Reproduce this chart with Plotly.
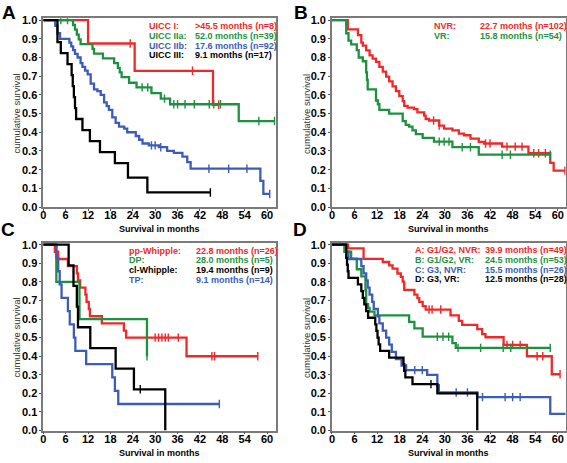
import numpy as np
import plotly.graph_objects as go

W, H = 567, 463
RED, GREEN, BLUE, BLACK = "#f02828", "#1e9140", "#3c5cb8", "#000000"
FONT = "Liberation Sans, Arial, sans-serif"

x_ticks = [0, 6, 12, 18, 24, 30, 36, 42, 48, 54, 60]
y_ticks = [0.0, 0.1, 0.2, 0.3, 0.4, 0.5, 0.6, 0.7, 0.8, 0.9, 1.0]

# ---------------- Panel A ----------------
A_I_t = [0, 12.0, 24.5, 45.5]
A_I_s = [1.0, 0.875, 0.729, 0.547]
A_I_end = 47.0
A_I_cens = [23.3, 40.0, 47.0]

A_IIa_t = [0, 8.0, 8.5, 9.0, 9.5, 10.0, 13.2, 13.6, 16.0, 19.0, 20.0, 20.5, 21.0, 23.0, 25.0, 29.0, 31.5, 34.0, 52.4]
A_IIa_s = [1.0, 0.974, 0.949, 0.923, 0.897, 0.872, 0.846, 0.821, 0.795, 0.77, 0.745, 0.72, 0.695, 0.665, 0.64, 0.61, 0.58, 0.55, 0.46]
A_IIa_end = 62.2
A_IIa_cens = [4.7, 6.5, 26.5, 28.0, 32.5, 35.0, 36.0, 38.0, 40.5, 44.5, 45.7, 47.5, 57.8, 62.0]

A_IIb_t = [0, 3.2, 3.8, 4.5, 7.0, 7.5, 8.0, 8.5, 9.2, 10.0, 10.5, 11.2, 11.9, 12.7, 13.6, 14.5, 15.4, 16.3, 17.0, 17.6, 18.5, 19.4, 20.3, 21.7, 22.5, 24.8, 25.7, 26.6, 28.3, 31.0, 33.2, 35.0, 37.3, 38.6, 39.5, 58.2, 59.0]
A_IIb_s = [1.0, 0.97, 0.93, 0.9, 0.88, 0.86, 0.84, 0.82, 0.8, 0.77, 0.75, 0.73, 0.71, 0.66, 0.63, 0.62, 0.6, 0.56, 0.54, 0.52, 0.48, 0.45, 0.43, 0.42, 0.4, 0.38, 0.36, 0.34, 0.33, 0.32, 0.3, 0.29, 0.27, 0.24, 0.205, 0.14, 0.07]
A_IIb_end = 60.7
A_IIb_cens = [29.0, 30.0, 31.5, 44.4, 49.7, 54.6, 60.7]

A_III_t = [0, 3.8, 4.7, 6.5, 7.6, 7.9, 8.2, 8.5, 8.8, 10.5, 12.5, 15.2, 19.2, 22.7, 27.9]
A_III_s = [1.0, 0.882, 0.824, 0.765, 0.706, 0.647, 0.588, 0.529, 0.471, 0.412, 0.353, 0.294, 0.235, 0.157, 0.078]
A_III_end = 44.8
A_III_cens = [44.8]

A_labels = ["UICC I:", "UICC IIa:", "UICC IIb:", "UICC III:"]
A_values = [">45.5 months (n=8)", "52.0 months (n=39)", "17.6 months (n=92)", "9.1 months (n=17)"]

# ---------------- Panel B ----------------
B_NVR_t = [0, 4.2, 6.9, 7.8, 8.2, 9.1, 10.0, 10.8, 11.7, 12.6, 13.5, 14.4, 15.2, 16.1, 17.0, 17.9, 18.8, 19.2, 20.1, 21.8, 22.7, 24.5, 24.9, 25.8, 28.5, 29.8, 32.0, 33.7, 35.1, 36.8, 39.0, 40.4, 45.2, 52.2, 58.0, 58.9]
B_NVR_s = [1.0, 0.951, 0.92, 0.88, 0.864, 0.838, 0.812, 0.794, 0.777, 0.75, 0.724, 0.698, 0.672, 0.646, 0.62, 0.593, 0.567, 0.541, 0.532, 0.524, 0.506, 0.489, 0.471, 0.463, 0.436, 0.419, 0.41, 0.393, 0.384, 0.366, 0.349, 0.34, 0.323, 0.288, 0.236, 0.195]
B_NVR_end = 61.9
B_NVR_cens = [27.0, 28.5, 40.8, 42.0, 46.5, 48.7, 50.5, 53.6, 54.9, 56.7, 61.9]

B_VR_t = [0, 3.8, 4.4, 5.1, 6.6, 7.1, 8.2, 9.1, 9.3, 9.5, 11.7, 12.2, 12.6, 15.2, 18.8, 19.6, 20.5, 21.4, 22.3, 24.1, 27.1, 32.0, 39.0]
B_VR_s = [1.0, 0.93, 0.89, 0.87, 0.84, 0.80, 0.78, 0.72, 0.68, 0.63, 0.57, 0.55, 0.52, 0.50, 0.46, 0.44, 0.43, 0.41, 0.39, 0.37, 0.35, 0.32, 0.28]
B_VR_end = 58.0
B_VR_cens = [28.5, 29.8, 31.1, 34.6, 36.8, 45.2, 47.4, 58.0]

B_labels = ["NVR:", "VR:"]
B_values = ["22.7 months (n=102)", "15.8 months (n=54)"]

# ---------------- Panel C ----------------
C_pp_t = [0, 3.1, 4.0, 6.6, 9.0, 9.3, 9.9, 11.3, 11.6, 12.2, 12.5, 15.7, 21.6, 22.2, 38.4]
C_pp_s = [1.0, 0.962, 0.923, 0.885, 0.846, 0.808, 0.769, 0.731, 0.692, 0.654, 0.615, 0.577, 0.538, 0.5, 0.4]
C_pp_end = 57.5
C_pp_cens = [30.0, 30.9, 31.8, 32.7, 33.5, 36.2, 45.2, 45.9, 57.5]

C_DP_t = [0, 3.5, 9.7, 27.8]
C_DP_s = [1.0, 0.8, 0.6, 0.4]
C_DP_end = 27.8
C_DP_cens = [27.8]

C_cl_t = [0, 6.8, 8.1, 9.0, 9.3, 12.6, 19.4, 24.3, 32.7]
C_cl_s = [1.0, 0.889, 0.778, 0.667, 0.556, 0.444, 0.333, 0.222, 0.0]
C_cl_end = 32.7
C_cl_cens = [26.0]

C_TP_t = [0, 3.5, 4.0, 4.4, 4.9, 6.6, 7.1, 8.2, 8.6, 11.5, 18.5, 19.2, 20.1]
C_TP_s = [1.0, 0.929, 0.857, 0.786, 0.714, 0.643, 0.571, 0.5, 0.429, 0.357, 0.286, 0.214, 0.143]
C_TP_end = 47.2
C_TP_cens = [47.2]

C_labels = ["pp-Whipple:", "DP:", "cl-Whipple:", "TP:"]
C_values = ["22.8 months (n=26)", "28.0 months (n=5)", "19.4 months (n=9)", "9.1 months (n=14)"]

# ---------------- Panel D ----------------
D_A_t = [0, 4.3, 8.4, 13.5, 15.2, 16.1, 17.4, 18.3, 18.8, 19.2, 21.9, 22.7, 23.2, 24.1, 24.9, 31.5, 33.7, 34.6, 38.6, 39.9, 40.8, 45.6, 51.8, 58.4]
D_A_s = [1.0, 0.98, 0.924, 0.907, 0.889, 0.871, 0.845, 0.827, 0.801, 0.757, 0.731, 0.713, 0.692, 0.669, 0.651, 0.62, 0.59, 0.569, 0.546, 0.519, 0.502, 0.461, 0.4, 0.303]
D_A_end = 60.6
D_A_cens = [25.8, 26.6, 28.9, 46.5, 48.0, 50.0, 54.5, 56.0, 60.6]

D_B_t = [0, 3.3, 5.1, 6.6, 7.8, 8.9, 9.1, 9.6, 10.0, 11.3, 20.5, 21.9, 24.1, 32.0, 32.9]
D_B_s = [1.0, 0.962, 0.925, 0.868, 0.83, 0.755, 0.68, 0.66, 0.64, 0.62, 0.585, 0.55, 0.505, 0.47, 0.445]
D_B_end = 58.0
D_B_cens = [28.0, 29.5, 31.0, 33.5, 39.5, 45.5, 47.5, 58.0]

D_C_t = [0, 3.8, 4.4, 7.8, 8.4, 9.1, 9.5, 10.0, 10.7, 11.1, 12.2, 12.6, 13.5, 14.4, 15.2, 15.9, 17.0, 18.5, 19.7, 25.3, 28.0, 28.4, 38.6, 58.0]
D_C_s = [1.0, 0.962, 0.923, 0.885, 0.846, 0.808, 0.769, 0.731, 0.692, 0.654, 0.615, 0.577, 0.538, 0.5, 0.462, 0.423, 0.385, 0.35, 0.325, 0.30, 0.245, 0.205, 0.18, 0.09]
D_C_end = 62.1
D_C_cens = [22.0, 24.0, 33.0, 36.0, 40.0, 46.0, 48.0, 50.0]

D_D_t = [0, 3.8, 4.0, 4.2, 4.4, 6.9, 7.8, 8.2, 8.6, 9.1, 9.6, 11.5, 11.8, 12.1, 12.4, 12.8, 15.2, 19.0, 19.2, 19.5, 21.4, 28.0, 38.6]
D_D_s = [1.0, 0.929, 0.893, 0.857, 0.821, 0.786, 0.75, 0.714, 0.679, 0.643, 0.607, 0.571, 0.536, 0.5, 0.464, 0.429, 0.393, 0.357, 0.321, 0.286, 0.25, 0.2, 0.0]
D_D_end = 38.6
D_D_cens = [26.3]

D_labels = ["A: G1/G2, NVR:", "B: G1/G2, VR:", "C: G3, NVR:", "D: G3, VR:"]
D_values = ["39.9 months (n=49)", "24.5 months (n=53)", "15.5 months (n=26)", "12.5 months (n=28)"]

# ---------------- layout geometry (pixels) ----------------
def px_x(p):
    return p / W

def px_y(p):
    return 1 - p / H

panels = {
    # name: (axis id, x0px, x1px, y_top_px, y_bottom_px, xmax)
    "A": ("", 40.5, 274.0, 14.6, 207.5, 62.27),
    "B": ("2", 330.7, 565.7, 14.6, 207.5, 62.1),
    "C": ("3", 40.5, 274.0, 244.1, 436.0, 62.27),
    "D": ("4", 330.7, 565.7, 244.1, 436.0, 62.1),
}

fig = go.Figure()

def add_curve(pid, t, s, end, cens, color):
    ax = panels[pid][0]
    xs = list(t) + [end]
    ys = list(s) + [s[-1]]
    fig.add_trace(go.Scatter(x=xs, y=ys, mode="lines", line=dict(color=color, width=2.3, shape="hv"),
                             xaxis="x" + ax, yaxis="y" + ax, showlegend=False, hoverinfo="skip"))
    if cens:
        ta = np.array(t)
        idx = np.searchsorted(ta, np.array(cens), side="right") - 1
        cy = [s[i] for i in idx]
        fig.add_trace(go.Scatter(x=cens, y=cy, mode="markers",
                                 marker=dict(symbol="line-ns-open", size=6, color=color,
                                             line=dict(color=color, width=1.4)),
                                 xaxis="x" + ax, yaxis="y" + ax, showlegend=False, hoverinfo="skip"))

add_curve("A", A_I_t, A_I_s, A_I_end, A_I_cens, RED)
add_curve("A", A_IIa_t, A_IIa_s, A_IIa_end, A_IIa_cens, GREEN)
add_curve("A", A_IIb_t, A_IIb_s, A_IIb_end, A_IIb_cens, BLUE)
add_curve("A", A_III_t, A_III_s, A_III_end, A_III_cens, BLACK)

add_curve("B", B_NVR_t, B_NVR_s, B_NVR_end, B_NVR_cens, RED)
add_curve("B", B_VR_t, B_VR_s, B_VR_end, B_VR_cens, GREEN)

add_curve("C", C_pp_t, C_pp_s, C_pp_end, C_pp_cens, RED)
add_curve("C", C_DP_t, C_DP_s, C_DP_end, C_DP_cens, GREEN)
add_curve("C", C_TP_t, C_TP_s, C_TP_end, C_TP_cens, BLUE)
add_curve("C", C_cl_t, C_cl_s, C_cl_end, C_cl_cens, BLACK)

add_curve("D", D_A_t, D_A_s, D_A_end, D_A_cens, RED)
add_curve("D", D_B_t, D_B_s, D_B_end, D_B_cens, GREEN)
add_curve("D", D_C_t, D_C_s, D_C_end, D_C_cens, BLUE)
add_curve("D", D_D_t, D_D_s, D_D_end, D_D_cens, BLACK)

layout = dict(width=W, height=H, margin=dict(l=0, r=0, t=0, b=0),
              paper_bgcolor="white", plot_bgcolor="white", showlegend=False)

tickfont = dict(family=FONT, size=11, color="black", weight="bold")
for pid, (ax, x0, x1, yt, yb, xmax) in panels.items():
    layout["xaxis" + ax] = dict(domain=[px_x(x0), px_x(x1)], range=[0, xmax], anchor="y" + ax,
                                tickvals=x_ticks, ticktext=[str(v) for v in x_ticks],
                                ticks="outside", ticklen=2, tickcolor="#555", tickwidth=1,
                                ticklabelstandoff=-5,
                                showline=True, mirror=True, linecolor="#7a7a7a", linewidth=1.6,
                                showgrid=False, zeroline=False, tickfont=tickfont, fixedrange=True)
    layout["yaxis" + ax] = dict(domain=[px_y(yb), px_y(yt)], range=[0, 1.01], anchor="x" + ax,
                                tickvals=y_ticks, ticktext=["%.1f" % v for v in y_ticks],
                                ticks="outside", ticklen=2, tickcolor="#555", tickwidth=1,
                                showline=True, mirror=True, linecolor="#7a7a7a", linewidth=1.6,
                                showgrid=False, zeroline=False, tickfont=tickfont, fixedrange=True)

fig.update_layout(**layout)

ann = []
def text(xp, yp, s, size=9, color="black", bold=True, xanchor="left", angle=0):
    ann.append(dict(x=px_x(xp), y=px_y(yp), xref="paper", yref="paper", text=s, showarrow=False,
                    xanchor=xanchor, yanchor="middle", textangle=angle,
                    font=dict(family=FONT, size=size, color=color, weight="bold" if bold else "normal")))

# panel letters
text(6.5, 9, "A", size=19, xanchor="center")
text(300, 9, "B", size=19, xanchor="center")
text(5.5, 230, "C", size=19, xanchor="center")
text(299, 230, "D", size=19, xanchor="center")

# axis titles
for pid, (ax, x0, x1, yt, yb, xmax) in panels.items():
    xt_y = 229.5 if pid in "AB" else 459
    text((x0 + x1) / 2, xt_y, "Survival in months", size=9, xanchor="center")
    yx = 14 if pid in "AC" else 305
    text(yx, (yt + yb) / 2 + 1, "cumulative survival", size=9.5, color="#333", xanchor="center", angle=-90, bold=False)

# legends
def legend(labels, values, colors, xl, xv, y0):
    for i, (l, v, c) in enumerate(zip(labels, values, colors)):
        text(xl, y0 + 10 * i, l, color=c)
        text(xv, y0 + 10 * i, v, color=c)

legend(A_labels, A_values, [RED, GREEN, BLUE, BLACK], 144.3, 190.7, 22.5)
legend(B_labels, B_values, [RED, GREEN], 431.7, 477.7, 22.5)
legend(C_labels, C_values, [RED, GREEN, BLACK, BLUE], 125, 191.7, 252)
legend(D_labels, D_values, [RED, GREEN, BLUE, BLACK], 412, 483, 251.5)

fig.update_layout(annotations=ann)
fig.write_html("out.html", config={"displayModeBar": False},
               post_script="document.body.style.margin='0';document.body.style.padding='0';")
